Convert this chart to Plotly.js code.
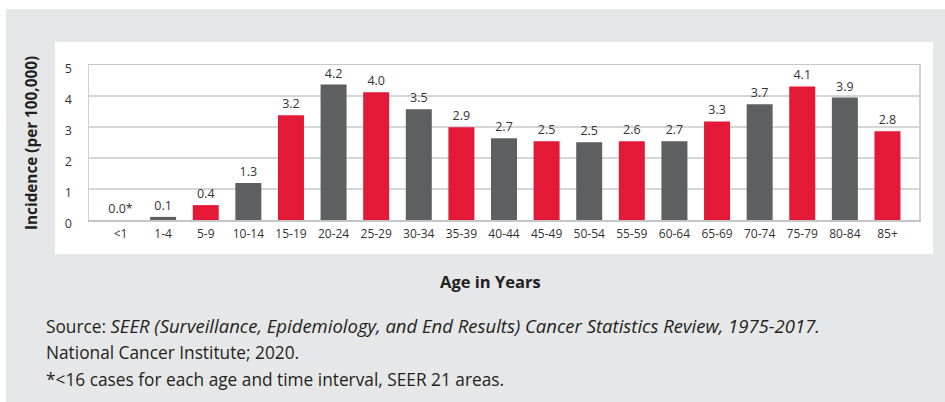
<!DOCTYPE html>
<html>
<head>
<meta charset="utf-8">
<script src="https://cdn.plot.ly/plotly-3.0.1.min.js"></script>
<style>
  html, body { margin: 0; padding: 0; background: #ffffff; }
  #chart { width: 945px; height: 402px; }
</style>
</head>
<body>
<div id="chart"></div>
<script>
// ---- data ----
const ageGroups = ["<1","1-4","5-9","10-14","15-19","20-24","25-29","30-34","35-39","40-44",
                   "45-49","50-54","55-59","60-64","65-69","70-74","75-79","80-84","85+"];
// bar heights as drawn in the reference
const incidence = [0, 0.1, 0.48, 1.19, 3.38, 4.37, 4.12, 3.57, 2.99, 2.64,
                   2.54, 2.51, 2.54, 2.54, 3.18, 3.73, 4.31, 3.95, 2.86];
// value labels printed above bars
const valueLabels = ["0.0*","0.1","0.4","1.3","3.2","4.2","4.0","3.5","2.9","2.7",
                     "2.5","2.5","2.6","2.7","3.3","3.7","4.1","3.9","2.8"];
const yTicks = [0, 1, 2, 3, 4, 5];

const RED = "#e31937", GRAY = "#5e5f61";
const barColors = ageGroups.map((_, i) => (i % 2 === 0 ? RED : GRAY));

// ---- layout geometry (pixels) ----
const W = 945, H = 402;
const L = 89, R = 26, T = 65, B = 182;
const pw = W - L - R, ph = H - T - B;
const px = x => (x - L) / pw;
const py = y => (H - B - y) / ph;

const FONT = "Open Sans, sans-serif";

const trace = {
  type: "bar",
  x: ageGroups,
  y: incidence,
  text: valueLabels,
  textposition: "outside",
  cliponaxis: false,
  textfont: { family: FONT, size: 12.5, color: "#333333" },
  marker: { color: barColors, line: { width: 0 } },
  hoverinfo: "x+text"
};

const layout = {
  width: W, height: H,
  margin: { l: L, r: R, t: T, b: B, pad: 0 },
  paper_bgcolor: "#ffffff",
  plot_bgcolor: "rgba(0,0,0,0)",
  showlegend: false,
  bargap: 0.39,
  font: { family: FONT, color: "#333333" },
  xaxis: {
    type: "category",
    range: [-0.74, ageGroups.length - 1 + 0.74],
    showgrid: false,
    zeroline: false,
    showline: true, mirror: true,
    linecolor: "#c6c6c6", linewidth: 1.5,
    ticks: "",
    tickfont: { family: FONT, size: 12, color: "#333333" },
    ticklabelstandoff: 2,
    fixedrange: true
  },
  yaxis: {
    range: [0, 5],
    tickvals: yTicks,
    ticktext: yTicks.map(String),
    showgrid: true, gridcolor: "#d6d6d6", gridwidth: 1.5,
    zeroline: false,
    showline: true, mirror: true,
    linecolor: "#d0d0d0", linewidth: 1.5,
    ticks: "",
    tickfont: { family: FONT, size: 12.5, color: "#333333" },
    ticklabelstandoff: 13,
    ticklabelshift: 4,
    fixedrange: true
  },
  shapes: [
    { type: "rect", layer: "below", xref: "paper", yref: "paper",
      x0: px(6), x1: px(945), y0: py(402), y1: py(9),
      fillcolor: "#e6e7e8", line: { width: 0 } },
    { type: "rect", layer: "below", xref: "paper", yref: "paper",
      x0: px(55), x1: px(933), y0: py(254), y1: py(42),
      fillcolor: "#ffffff", line: { width: 0 } }
  ],
  annotations: [
    { text: "<b>Incidence (per 100,000)</b>", xref: "paper", yref: "paper",
      x: px(31), y: py(143), xanchor: "center", yanchor: "middle", textangle: -90,
      showarrow: false, font: { family: FONT, size: 15.3, color: "#231f20" } },
    { text: "<b>Age in Years</b>", xref: "paper", yref: "paper",
      x: px(490), y: py(281), xanchor: "center", yanchor: "middle",
      showarrow: false, font: { family: FONT, size: 16.5, color: "#231f20" } },
    { text: "Source: <i><span style=\"font-size:18.5px\">SEER (Surveillance, Epidemiology, and End Results) Cancer Statistics Review, 1975-2017.</span></i>",
      xref: "paper", yref: "paper", x: px(44), y: py(325), xanchor: "left", yanchor: "middle",
      showarrow: false, font: { family: FONT, size: 17.3, color: "#231f20" } },
    { text: "National Cancer Institute; 2020.",
      xref: "paper", yref: "paper", x: px(44), y: py(352), xanchor: "left", yanchor: "middle",
      showarrow: false, font: { family: FONT, size: 17.3, color: "#231f20" } },
    { text: "*<16 cases for each age and time interval, SEER 21 areas.",
      xref: "paper", yref: "paper", x: px(44), y: py(379), xanchor: "left", yanchor: "middle",
      showarrow: false, font: { family: FONT, size: 17.3, color: "#231f20" } }
  ]
};

Plotly.newPlot("chart", [trace], layout, { displayModeBar: false, staticPlot: true });
</script>
</body>
</html>
